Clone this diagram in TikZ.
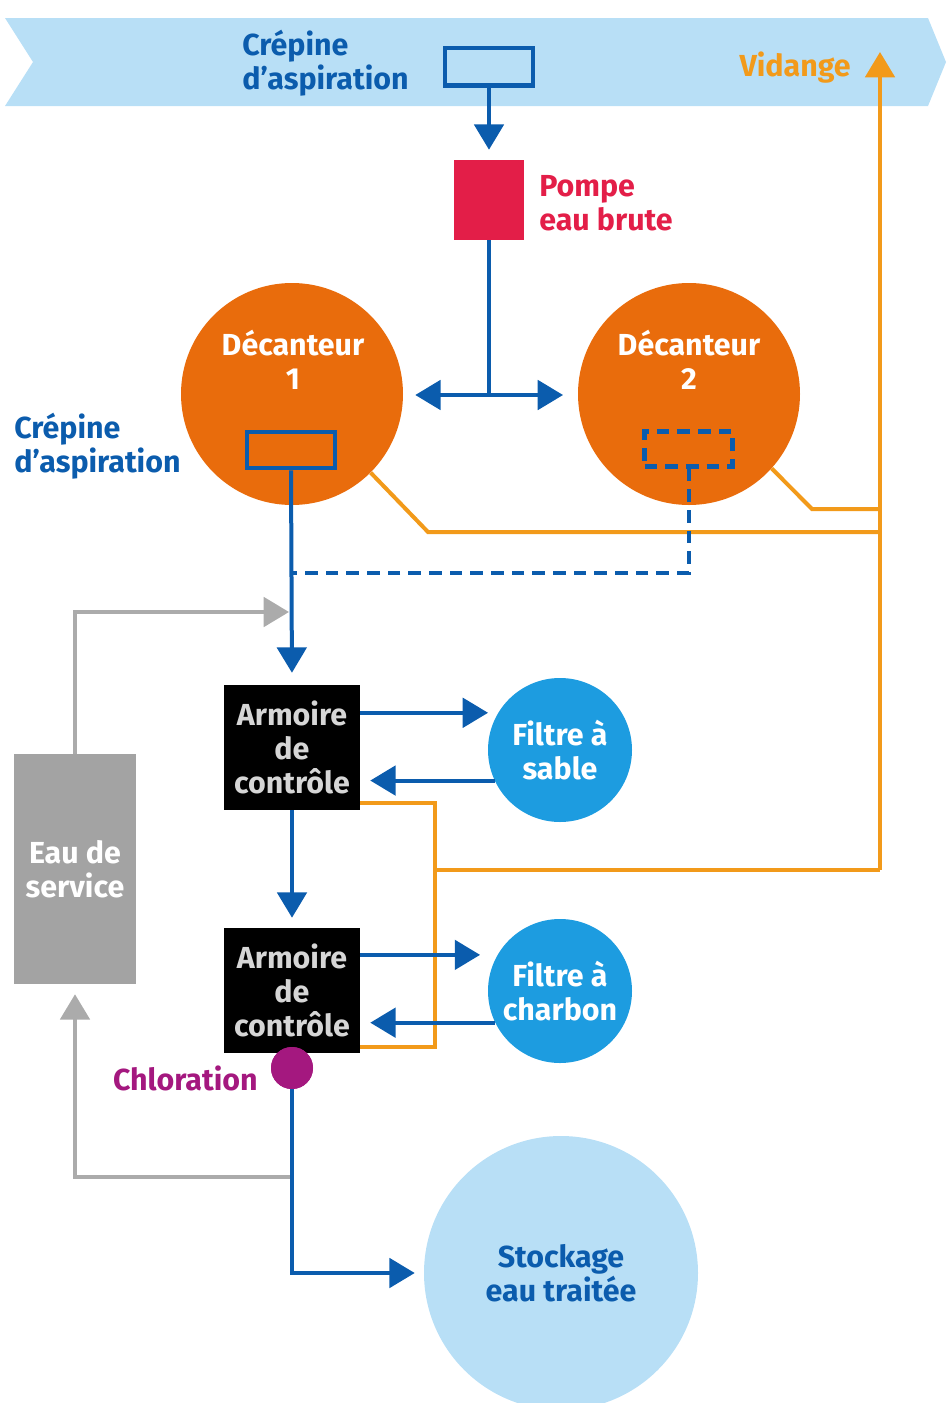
\documentclass[tikz,border=0pt]{standalone}
\usepackage{fontspec}
\setmainfont{Fira Sans}
\usetikzlibrary{arrows.meta,calc,backgrounds}
\definecolor{cblue}{HTML}{0B5CAD}
\definecolor{clight}{HTML}{B8DFF6}
\definecolor{cred}{HTML}{E31E48}
\definecolor{corange}{HTML}{E96C0C}
\definecolor{camber}{HTML}{F29A1A}
\definecolor{cfilter}{HTML}{1D9CE0}
\definecolor{cgray}{HTML}{A3A3A3}
\definecolor{cgline}{HTML}{ABABAB}
\definecolor{cpurple}{HTML}{A4187F}
\definecolor{carmtxt}{HTML}{D6D6D6}
\begin{document}
\begin{tikzpicture}[x=0.75pt,y=-0.75pt,
  font=\fontsize{22.8}{25.5}\selectfont\bfseries,
  tip/.style={-{Triangle[width=22pt,length=19pt]}},
  bline/.style={draw=cblue,line width=3pt},
  barrow/.style={bline,tip},
  bdash/.style={bline,dash pattern=on 9.5pt off 6pt},
  oline/.style={draw=camber,line width=3pt},
  oarrow/.style={oline,tip},
  garrow/.style={draw=cgline,line width=3pt,tip},
  lbl/.style={align=left,inner sep=0pt},
  armbox/.style={fill=black,text=carmtxt,minimum width=102pt,minimum height=93.75pt,align=center,inner sep=0pt},
  filt/.style={circle,fill=cfilter,text=white,minimum size=108pt,align=center,inner sep=0pt},
  deca/.style={circle,fill=corange,minimum size=166.5pt,inner sep=0pt},
  crep/.style={draw=cblue,line width=3.5pt,minimum width=66pt,minimum height=27pt,inner sep=0pt}
]
\useasboundingbox (0,0) rectangle (948,1403);
% banner
\fill[clight] (5,18) -- (928,18) -- (946,62) -- (928,106) -- (5,106) -- (33,62) -- cycle;

% nodes
\node[crep,fill=clight,minimum height=28pt] (crept) at (489,66.5) {};
\node[lbl,text=cblue,anchor=west] (creptl) at (242,63) {Crépine\\d’aspiration};
\node[fill=cred,minimum width=52.5pt,minimum height=60pt,inner sep=0pt] (pump) at (489,200) {};
\node[lbl,text=cred,anchor=west] (pumpl) at (539,203) {Pompe\\eau brute};
\node[text=camber,inner sep=0pt,anchor=east] (vidl) at (851,68) {Vidange};

\node[deca] (dec1) at (292,394) {};
\node[deca] (dec2) at (689,394) {};
\node[text=white,align=center,inner sep=0pt] (dec1l) at (293,360) {Décanteur\\1};
\node[text=white,align=center,inner sep=0pt] (dec2l) at (689,360) {Décanteur\\2};
\node[crep] (crep1) at (291,450) {};
\node[crep,dash pattern=on 9.5pt off 6pt,minimum height=26pt] (crep2) at (688.5,449) {};
\node[lbl,text=cblue,anchor=west] (crep1l) at (14,446) {Crépine\\d’aspiration};

\node[armbox] (arm1) at (292,747.5) {Armoire\\de\\contrôle};
\node[armbox] (arm2) at (292,990.5) {Armoire\\de\\contrôle};
\node[filt] (sable) at (560,750) {Filtre à\\sable};
\node[filt] (charb) at (560,991) {Filtre à\\charbon};
\node[fill=cgray,text=white,minimum width=91.5pt,minimum height=172.5pt,align=center,inner sep=0pt] (svc) at (75,869) {Eau de\\service};
\node[circle,fill=cpurple,minimum size=31.5pt,inner sep=0pt] (chlor) at (292,1068) {};
\node[text=cpurple,inner sep=0pt,anchor=east] (chlorl) at (258,1078) {Chloration};
\node[circle,fill=clight,text=cblue,minimum size=205.5pt,align=center,inner sep=0pt] (stock) at (561,1273) {Stockage\\eau traitée};

% coordinates
\coordinate (split) at (489,395);
\coordinate (j1) at (292,573);
\coordinate (gj) at (289,612);
\coordinate (gb) at (292,1177);
\coordinate (vbot) at (880,870);
\coordinate (vtop) at (880,52);
\coordinate (o1a) at (428,532);
\coordinate (o1b) at (880,532);
\coordinate (o2a) at (812,509);
\coordinate (o2b) at (880,509);
\coordinate (o3a) at (435,803);
\coordinate (o3b) at (435,1047);
\coordinate (o3c) at (435,870);

% orange lines (behind circles)
\begin{pgfonlayer}{background}
\draw[oline] (dec1.-45) -- (o1a) -- (o1b);
\draw[oline] (dec2.-42) -- (o2a) -- (o2b);
\end{pgfonlayer}
\draw[oarrow] (vbot) -- (vtop);
\draw[oline] (arm1.east |- o3a) -- (o3a) -- (o3b) -- (arm2.east |- o3b);
\draw[oline] (o3c) -- (vbot);

% blue connectors
\draw[barrow,shorten >=7.5pt] (crept.south) -- (pump.north);
\draw[bline] (pump.south) -- (split);
\draw[barrow,shorten >=9pt] (split) -- (dec1.east |- split);
\draw[barrow,shorten >=11pt] (split) -- (dec2.west |- split);
\draw[bdash] (crep2.south) |- (j1);
\draw[barrow,shorten >=9pt] (crep1.south) -- (arm1.north);
\draw[barrow,shorten >=7.5pt] (arm1.south) -- (arm2.north);
\draw[barrow] (arm1.east |- sable.149) -- ([xshift=-7.5pt]sable.149);
\draw[barrow,shorten >=7.5pt] (sable.205) -- (sable.205 -| arm1.east);
\draw[barrow] (arm2.east |- charb.150) -- ([xshift=-13pt]charb.150);
\draw[barrow,shorten >=7.5pt] (charb.206) -- (charb.206 -| arm2.east);

% gray connectors
\draw[garrow] (svc.north) |- (gj);
\draw[garrow,shorten >=7.5pt] (gb) -| (svc.south);

% chloration to storage
\draw[barrow,shorten >=6.75pt] (chlor.south) |- (stock.west);
\node[circle,fill=cpurple,minimum size=31.5pt,inner sep=0pt] (chlor2) at (chlor) {};
\end{tikzpicture}
\end{document}
